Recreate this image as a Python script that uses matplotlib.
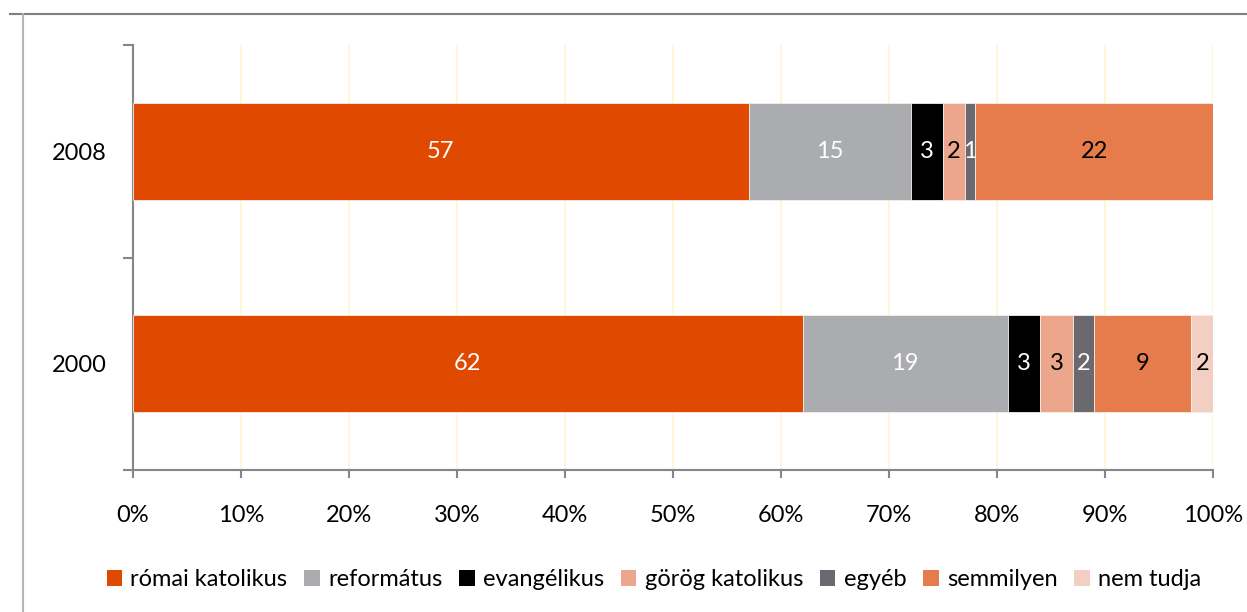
import matplotlib
matplotlib.use("Agg")
import matplotlib.pyplot as plt
from matplotlib.lines import Line2D
from matplotlib.patches import Patch
import numpy as np

plt.rcParams['font.family'] = ['Lato', 'DejaVu Sans']

years = ["2000", "2008"]
categories = ["római katolikus", "református", "evangélikus", "görög katolikus",
              "egyéb", "semmilyen", "nem tudja"]
values_2000 = [62, 19, 3, 3, 2, 9, 2]
values_2008 = [57, 15, 3, 2, 1, 22, 0]
colors = ["#E04A00", "#ABACB0", "#000000", "#EBA68B", "#6A696F", "#E67C4B", "#F2CFC2"]
label_colors = ["white", "white", "white", "black", "white", "black", "black"]
xticks = [0, 10, 20, 30, 40, 50, 60, 70, 80, 90, 100]
xtick_labels = [f"{t}%" for t in xticks]

W, H = 1247, 612
FS = 17
fig = plt.figure(figsize=(W / 100, H / 100), dpi=100)
fig.patch.set_facecolor("white")

ax = fig.add_axes([133 / W, (H - 470) / H, (1213 - 133) / W, (470 - 45) / H])

data = np.array([values_2000, values_2008], dtype=float)
totals = data.sum(axis=1, keepdims=True)
shares = data / totals * 100
ypos = np.arange(len(years))
left = np.zeros(len(years))
for i, cat in enumerate(categories):
    widths = shares[:, i]
    ax.barh(ypos, widths, left=left, height=0.455, color=colors[i],
            edgecolor="#F4EEE8", linewidth=0.6, label=cat, zorder=3)
    for j in range(len(years)):
        v = data[j, i]
        if v > 0:
            ax.text(left[j] + widths[j] / 2, ypos[j], f"{int(v)}",
                    ha="center", va="center", fontsize=FS,
                    color=label_colors[i], zorder=4)
    left += widths

ax.set_xlim(0, 100)
ax.set_ylim(-0.5, 1.5)
ax.set_xticks(xticks)
ax.set_xticklabels(xtick_labels, fontsize=FS)
ax.set_yticks(ypos)
ax.set_yticklabels(years, fontsize=FS)
ax.set_yticks([-0.5, 0.5, 1.5], minor=True)
ax.tick_params(axis="y", which="major", length=0, pad=19)
ax.tick_params(axis="y", which="minor", length=7, width=1.5, color="#868686")
ax.tick_params(axis="x", length=6, width=1.5, color="#868686", pad=19)
ax.xaxis.grid(True, color="#FFF4D2", linewidth=1.2, zorder=0)
ax.set_axisbelow(True)
for s in ["top", "right"]:
    ax.spines[s].set_visible(False)
for s in ["left", "bottom"]:
    ax.spines[s].set_color("#868686")
    ax.spines[s].set_linewidth(1.5)

# Outer chart frame
fig.add_artist(Line2D([10 / W, 1.0], [(H - 14) / H, (H - 14) / H],
                      transform=fig.transFigure, color="#7F7F7F", linewidth=1.5))
fig.add_artist(Line2D([23 / W, 23 / W], [(H - 14) / H, 0.0],
                      transform=fig.transFigure, color="#B4B4B4", linewidth=1.5))

handles = [Patch(facecolor=c, edgecolor="none") for c in colors]
fig.legend(handles, categories, loc="center", bbox_to_anchor=(654 / W, (H - 580) / H),
           ncol=len(categories), frameon=False, fontsize=FS,
           handlelength=0.65, handleheight=0.65, handletextpad=0.35,
           columnspacing=0.72)

fig.savefig("out.png", dpi=100, facecolor="white")
